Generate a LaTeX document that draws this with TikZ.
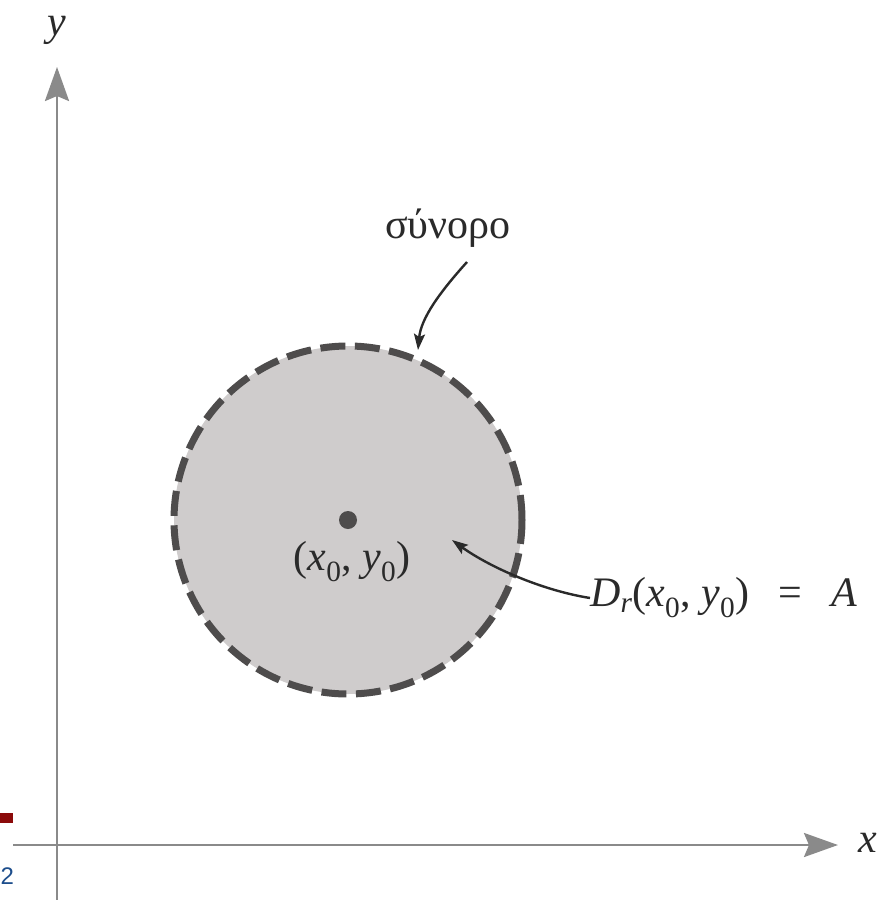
\documentclass[tikz,border=0pt]{standalone}
\usepackage{fontspec}
\setmainfont{Liberation Serif}
\newfontfamily\slidesans{Liberation Sans}
\usetikzlibrary{arrows.meta}
\definecolor{axisgray}{HTML}{8A8A8A}
\definecolor{diskfill}{HTML}{CFCCCC}
\definecolor{dashgray}{HTML}{4E4C4C}
\definecolor{inkdark}{HTML}{2A2A2A}
\definecolor{slidered}{HTML}{8B0A0A}
\definecolor{slideblue}{HTML}{1D4E8C}
\tikzset{
  axisline/.style={draw=axisgray, line width=2.6pt, -{Stealth[length=34pt,width=24pt,inset=5pt,fill=axisgray]}},
  boundary/.style={draw=dashgray, line width=7pt, dash pattern=on 25pt off 9.5pt, fill=diskfill},
  pointer/.style={draw=inkdark, line width=2.4pt, -{Stealth[length=16pt,width=11pt,inset=3pt]}},
  lbl/.style={font=\fontsize{42}{48}\selectfont, inner sep=0pt, text=inkdark}
}
\begin{document}
\begin{tikzpicture}[x=1pt,y=-1pt]
\useasboundingbox (0,0) rectangle (884,900);
\fill[white] (0,0) rectangle (884,900);
% axes
\coordinate (ybot) at (57,900);
\coordinate (ytop) at (57,67);
\coordinate (xleft) at (13,845);
\coordinate (xright) at (838,845);
\draw[axisline] (ybot) -- (ytop);
\draw[axisline] (xleft) -- (xright);
\node[lbl] (ylab) at (57,30) {\textit{y}};
\node[lbl] (xlab) at (868,843) {\textit{x}};
% disk
\coordinate (c) at (348,520);
\draw[boundary] (c) circle[radius=174pt];
\fill[dashgray] (c) circle[radius=9pt];
\node[lbl] (clab) at (352,562) {(\textit{x}\textsubscript{0}, \textit{y}\textsubscript{0})};
% boundary label
\node[lbl] (blab) at (448,228) {σύνορο};
\coordinate (btip) at (418,350);
\draw[pointer] (467,262) .. controls (440,292) and (421,318) .. (btip);
% disk label
\node[lbl, anchor=west] (dlab) at (590,598) {\textit{D}\textsubscript{\textit{r}}(\textit{x}\textsubscript{0}, \textit{y}\textsubscript{0})\hspace{0.7em}=\hspace{0.7em}\textit{A}};
\coordinate (dtip) at (452,540);
\draw[pointer] (dlab.west) .. controls (540,590) and (488,566) .. (dtip);
% slide remnants
\fill[slidered] (0,813) rectangle (13,823);
\node[font=\slidesans\fontsize{24}{28}\selectfont, text=slideblue, anchor=west, inner sep=0pt] (pnum) at (0.5,876) {2};
\end{tikzpicture}
\end{document}
